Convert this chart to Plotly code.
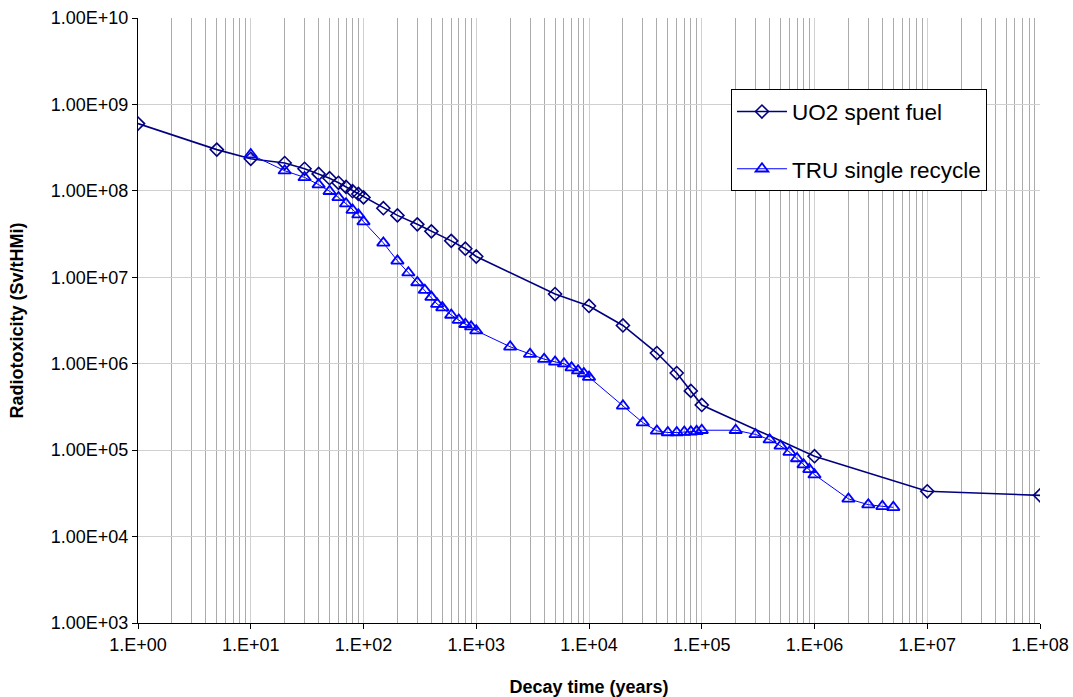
import plotly.graph_objects as go

# ---- data ----
uo2_time = [1, 5, 10, 20, 30, 40, 50, 60, 70, 80, 90, 100, 150, 200, 300, 400, 600, 800, 1000,
            5000, 10000, 20000, 40000, 60000, 80000, 100000, 1e6, 1e7, 1e8]
uo2_tox = [6.0e8, 3.0e8, 2.35e8, 2.1e8, 1.8e8, 1.57e8, 1.40e8, 1.24e8, 1.11e8, 9.9e7, 9.2e7, 8.4e7,
           6.3e7, 5.2e7, 4.1e7, 3.4e7, 2.64e7, 2.14e7, 1.74e7,
           6.4e6, 4.66e6, 2.77e6, 1.33e6, 7.8e5, 4.85e5, 3.33e5, 8.5e4, 3.34e4, 3.0e4]

tru_time = [10, 20, 30, 40, 50, 60, 70, 80, 90, 100, 150, 200, 250, 300, 350, 400, 450, 500,
            600, 700, 800, 900, 1000, 2000, 3000, 4000, 5000, 6000, 7000, 8000, 9000, 10000,
            20000, 30000, 40000, 50000, 60000, 70000, 80000, 90000, 100000,
            200000, 300000, 400000, 500000, 600000, 700000, 800000, 900000, 1e6,
            2e6, 3e6, 4e6, 5e6]
tru_tox = [2.63e8, 1.71e8, 1.43e8, 1.18e8, 9.9e7, 8.4e7, 7.1e7, 6.0e7, 5.3e7, 4.4e7, 2.5e7, 1.55e7,
           1.13e7, 8.7e6, 7.1e6, 5.9e6, 4.9e6, 4.46e6, 3.66e6, 3.2e6, 2.86e6, 2.68e6, 2.41e6,
           1.57e6, 1.29e6, 1.13e6, 1.05e6, 1.0e6, 9.0e5, 8.3e5, 7.7e5, 7.0e5,
           3.26e5, 2.08e5, 1.67e5, 1.6e5, 1.6e5, 1.62e5, 1.63e5, 1.65e5, 1.7e5,
           1.7e5, 1.52e5, 1.32e5, 1.12e5, 9.5e4, 8.0e4, 6.8e4, 6.0e4, 5.2e4,
           2.73e4, 2.34e4, 2.24e4, 2.18e4]

x_tick_vals = [1e0, 1e1, 1e2, 1e3, 1e4, 1e5, 1e6, 1e7, 1e8]
x_tick_text = ["1.E+00", "1.E+01", "1.E+02", "1.E+03", "1.E+04", "1.E+05", "1.E+06", "1.E+07", "1.E+08"]
y_tick_vals = [1e3, 1e4, 1e5, 1e6, 1e7, 1e8, 1e9, 1e10]
y_tick_text = ["1.00E+03", "1.00E+04", "1.00E+05", "1.00E+06", "1.00E+07", "1.00E+08", "1.00E+09", "1.00E+10"]

FONT = "Arial, Liberation Sans, Helvetica, sans-serif"

fig = go.Figure()
fig.add_trace(go.Scatter(
    x=uo2_time, y=uo2_tox, name="UO2 spent fuel", mode="lines+markers",
    line=dict(color="#000080", width=1.6),
    marker=dict(symbol="diamond-open", size=10, color="#000080", line=dict(width=1.6, color="#000080")),
    legendgroup="g1",
))
fig.add_trace(go.Scatter(
    x=tru_time, y=tru_tox, name="TRU single recycle", mode="lines+markers",
    line=dict(color="#0000FF", width=1),
    marker=dict(symbol="triangle-up-open", size=11, color="#0000FF", line=dict(width=1.8, color="#0000FF")),
    legendgroup="g2",
))

fig.update_layout(
    width=1073, height=697,
    margin=dict(l=138, r=33, t=18, b=74, autoexpand=False),
    paper_bgcolor="white", plot_bgcolor="white",
    font=dict(family=FONT, color="black", size=18),
    showlegend=True,
    legend=dict(
        x=0.6574, y=0.882, xanchor="left", yanchor="top",
        bgcolor="white", bordercolor="black", borderwidth=1,
        font=dict(family=FONT, size=22.5, color="black"),
        tracegroupgap=25, traceorder="grouped",
        itemwidth=50,
    ),
    xaxis=dict(
        type="log", range=[0, 8], automargin=False,
        tickvals=x_tick_vals, ticktext=x_tick_text,
        ticks="outside", ticklen=5, tickcolor="black",
        showline=True, linecolor="black", linewidth=1, mirror=False,
        showgrid=True, gridcolor="#d0d0d0", gridwidth=1,
        minor=dict(dtick="D1", showgrid=True, gridcolor="#ababab", gridwidth=1, ticks=""),
        zeroline=False,
        title=dict(text="<b>Decay time (years)</b>", font=dict(family=FONT, size=18), standoff=26),
        tickfont=dict(size=18),
    ),
    yaxis=dict(
        type="log", range=[3, 10], automargin=False,
        tickvals=y_tick_vals, ticktext=y_tick_text,
        ticks="outside", ticklen=5, tickcolor="black",
        showline=True, linecolor="black", linewidth=1, mirror=False,
        showgrid=True, gridcolor="#d0d0d0", gridwidth=1,
        zeroline=False,
        title=dict(text="<b>Radiotoxicity (Sv/tHMi)</b>", font=dict(family=FONT, size=18), standoff=22),
        tickfont=dict(size=18),
    ),
)

fig.write_html("out.html", config={"displayModeBar": False},
               post_script="document.body.style.margin='0px';")
